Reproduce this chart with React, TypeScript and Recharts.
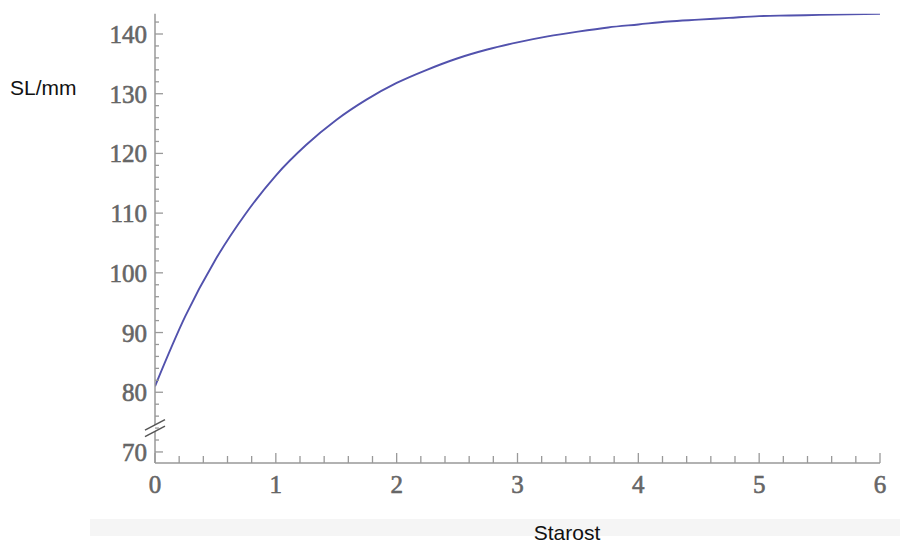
import React from 'react';
import { LineChart, Line, XAxis, YAxis, ReferenceDot } from 'recharts';

// Age (years) and standard length
const ages = [0, 0.25, 0.5, 0.75, 1, 1.25, 1.5, 1.75, 2, 2.25, 2.5, 2.75, 3, 3.25, 3.5, 3.75, 4, 4.25, 4.5, 4.75, 5, 5.25, 5.5, 5.75, 6];
const slValues = [81.0, 92.7, 102.2, 109.9, 116.3, 121.4, 125.6, 129.0, 131.8, 134.0, 135.9, 137.4, 138.6, 139.6, 140.4, 141.1, 141.6, 142.1, 142.4, 142.7, 143.0, 143.1, 143.2, 143.3, 143.4];

const xTicks = [0, 0.2, 0.4, 0.6, 0.8, 1, 1.2, 1.4, 1.6, 1.8, 2, 2.2, 2.4, 2.6, 2.8, 3, 3.2, 3.4, 3.6, 3.8, 4, 4.2, 4.4, 4.6, 4.8, 5, 5.2, 5.4, 5.6, 5.8, 6];
const yTicks = [70, 72, 74, 76, 78, 80, 82, 84, 86, 88, 90, 92, 94, 96, 98, 100, 102, 104, 106, 108, 110, 112, 114, 116, 118, 120, 122, 124, 126, 128, 130, 132, 134, 136, 138, 140, 142];

const yLabel = 'SL/mm';
const xLabel = 'Starost';
const breakAt = 74;

const data = ages.map((age, i) => ({ age, sl: slValues[i] }));

const AXIS = '#999';
const TICK_TEXT = '#666';
const tickFont = '"Liberation Serif", "DejaVu Serif", serif';

const isMajor = (v: number, step: number) => Math.abs(v / step - Math.round(v / step)) < 1e-6;

// ticks point inward, labels only on the major ones
const XTick = (props: any) => {
  const { x, y, payload } = props;
  const major = isMajor(payload.value, 1);
  return (
    <g>
      <line x1={x} x2={x} y1={y} y2={y - (major ? 10 : 7)} stroke={AXIS} strokeWidth={1.3} />
      {major && (
        <text
          x={x}
          y={y + 30}
          textAnchor="middle"
          fill={TICK_TEXT}
          stroke={TICK_TEXT}
          strokeWidth={0.6}
          fontSize={25}
          fontFamily={tickFont}
        >
          {payload.value}
        </text>
      )}
    </g>
  );
};

const YTick = (props: any) => {
  const { x, y, payload } = props;
  const major = isMajor(payload.value, 10);
  return (
    <g>
      <line x1={x} x2={x + (major ? 8 : 4)} y1={y} y2={y} stroke={AXIS} strokeWidth={1.3} />
      {major && (
        <text
          x={x - 8}
          y={y + 9}
          textAnchor="end"
          fill={TICK_TEXT}
          stroke={TICK_TEXT}
          strokeWidth={0.6}
          fontSize={25}
          fontFamily={tickFont}
        >
          {payload.value}
        </text>
      )}
    </g>
  );
};

// the "//" axis break mark
const AxisBreak = (props: any) => {
  const { cx, cy } = props;
  return (
    <g>
      <polygon
        points={`${cx - 10},${cy + 2} ${cx + 10},${cy - 8} ${cx + 10},${cy - 2} ${cx - 10},${cy + 8}`}
        fill="#fff"
      />
      <line x1={cx - 10} y1={cy + 2} x2={cx + 10} y2={cy - 8.5} stroke="#555" strokeWidth={1.5} />
      <line x1={cx - 10} y1={cy + 8.5} x2={cx + 10} y2={cy - 2} stroke="#555" strokeWidth={1.5} />
    </g>
  );
};

export default function App() {
  return (
    <div style={{ position: 'absolute', left: 0, top: 0, width: 900, height: 543, background: '#fff', overflow: 'hidden' }}>
      <LineChart width={900} height={543} data={data} margin={{ top: 13.7, right: 20, bottom: 40, left: 95 }}>
        <XAxis
          dataKey="age"
          type="number"
          domain={[0, 6]}
          ticks={xTicks}
          interval={0}
          allowDataOverflow
          height={40}
          tickSize={0}
          tickMargin={0}
          tickLine={false}
          axisLine={{ stroke: AXIS, strokeWidth: 1.5 }}
          tick={<XTick />}
        />
        <YAxis
          type="number"
          domain={[68.15, 143.4]}
          ticks={yTicks}
          interval={0}
          allowDataOverflow
          width={60}
          tickSize={0}
          tickMargin={0}
          tickLine={false}
          axisLine={{ stroke: AXIS, strokeWidth: 1.5 }}
          tick={<YTick />}
        />
        <Line
          type="monotone"
          dataKey="sl"
          stroke="#5252ad"
          strokeWidth={1.9}
          dot={false}
          isAnimationActive={false}
        />
        <ReferenceDot x={0} y={breakAt} ifOverflow="visible" shape={<AxisBreak />} />
      </LineChart>

      <div
        style={{
          position: 'absolute',
          left: 10,
          top: 77,
          fontFamily: '"Liberation Sans", Arial, sans-serif',
          fontSize: 21,
          lineHeight: '21px',
          color: '#111',
        }}
      >
        {yLabel}
      </div>

      <div style={{ position: 'absolute', left: 90, top: 519, width: 810, height: 17, background: '#f5f5f5' }} />
      <div
        style={{
          position: 'absolute',
          left: 467,
          top: 524,
          width: 200,
          textAlign: 'center',
          fontFamily: '"Liberation Sans", Arial, sans-serif',
          fontSize: 21,
          lineHeight: '18px',
          color: '#111',
        }}
      >
        {xLabel}
      </div>
    </div>
  );
}
